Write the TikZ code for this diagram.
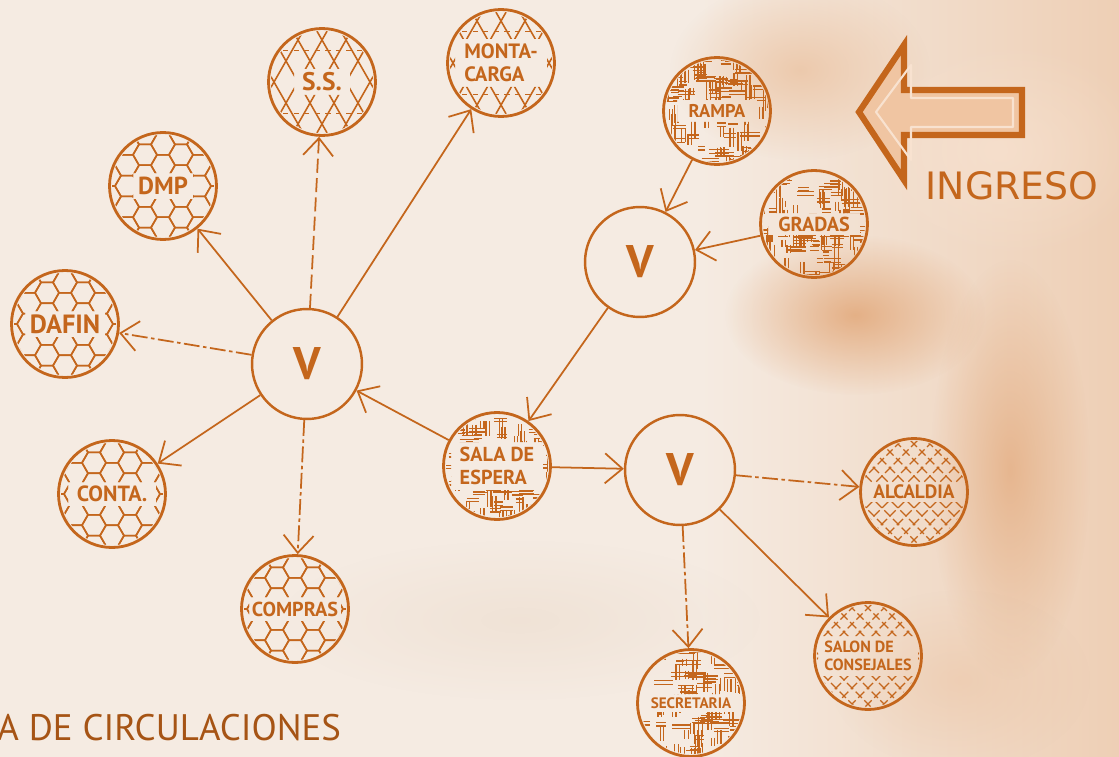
\documentclass[tikz,border=0pt]{standalone}
\usepackage{fontspec}
\usepackage{tikz}
\usetikzlibrary{arrows.meta,fadings}
\newfontfamily\ptsans{PT Sans}
\newfontfamily\dejavu{DejaVu Sans}
\definecolor{rust700}{HTML}{C4661C}
\definecolor{rust800}{HTML}{A65415}
\definecolor{sand50}{HTML}{F5EBE2}
\definecolor{sand200}{HTML}{E9D6C4}
\definecolor{peach100}{HTML}{F8E2D0}
\definecolor{peach200}{HTML}{F0C5A2}
\definecolor{peach300}{HTML}{EBC3A2}
\definecolor{peach400}{HTML}{DD965E}
\tikzfading[name=softblob, inner color=transparent!0, outer color=transparent!100]
\tikzset{
  every node/.style={font=\ptsans, text=rust700},
  room/.style={
    circle, draw=rust700, line width=1.6pt,
    minimum size=2.14cm, inner sep=0pt,
    align=left, font=\ptsans\bfseries\fontsize{#1}{#1}\selectfont
  },
  hub/.style={
    circle, draw=rust700, line width=1.4pt,
    minimum size=2.2cm,
    font=\ptsans\bfseries\fontsize{26}{26}\selectfont
  },
  flow/.style={
    -{Straight Barb[length=3.5mm,width=6mm]},
    line width=1pt, draw=rust700
  },
  flowdash/.style={flow, dash pattern=on 8pt off 3pt},
  flowdot/.style={flow, dash pattern=on 9pt off 2pt on 2pt off 2pt},
  hatch/.style={draw=rust700, line width=0.9pt},
  maze/.style={draw=rust700, line width=0.75pt},
  blob/.style={path fading=softblob},
}
\newcommand{\bandclip}[2]{\clip (-60,-60) -- (60,-60) -- (60,60) -- (-60,60) -- cycle
  (-#1,-#2) -- (-#1,#2) -- (#1,#2) -- (#1,-#2) -- cycle;}

\begin{document}
\begin{tikzpicture}[x=0.02cm, y=-0.02cm]
  \useasboundingbox (0,0) rectangle (1119,757);
  \fill[sand50] (0,0) rectangle (1119,757);
  \shade[left color=sand50, right color=peach300!70!sand50] (700,0) rectangle (1119,757);
  \fill[blob, peach300, opacity=.8] (800,70) ellipse (130 and 90);
  \fill[blob, peach100, opacity=.7] (1000,150) ellipse (150 and 110);
  \fill[blob, peach400, opacity=.65] (855,315) ellipse (130 and 80);
  \fill[blob, peach400, opacity=.5] (1010,470) ellipse (80 and 210);
  \fill[blob, peach300, opacity=.5] (960,680) ellipse (130 and 90);
  \fill[blob, sand200, opacity=.4] (520,620) ellipse (240 and 80);

  \node[hub] (v1) at (307,364) {V};
  \node[hub] (v2) at (640,262) {V};
  \node[hub] (v3) at (680,470) {V};
  \node[room=14.5] (ss) at (322,82) {S.S.};
  \node[room=11.8] (monta) at (501,63) {MONTA-\\[1.5pt]CARGA};
  \node[room=14] (dmp) at (163,186) {DMP};
  \node[room=15] (dafin) at (65,324) {DAFIN};
  \node[room=12.5] (conta) at (112,494) {CONTA.};
  \node[room=11.5] (compras) at (295,609) {COMPRAS};
  \node[room=11.5] (sala) at (497,466) {SALA DE\\[1.5pt]ESPERA};
  \node[room=10.5] (rampa) at (717,111) {RAMPA};
  \node[room=11.5] (gradas) at (814,224) {GRADAS};
  \node[room=11] (alcaldia) at (914,492) {ALCALDIA};
  \node[room=9.2] (salon) at (868,656) {SALON DE\\[1pt]CONSEJALES};
  \node[room=8.6] (secretaria) at (691,703) {SECRETARIA};

  \foreach \n/\w/\h in {dmp/30/13, dafin/40/13, conta/44/12, compras/46/12}{
    \begin{scope}[shift={(\n.center)}]
      \clip (0,0) circle (51);
      \bandclip{\w}{\h}
      \foreach \i in {-4,...,4}
        \foreach \j in {-3,...,3}
          \draw[hatch] ({18*\i},{20.8*(\j+0.5*abs(mod(\i,2)))}) +(0:12) -- +(60:12) -- +(120:12)
            -- +(180:12) -- +(240:12) -- +(300:12) -- cycle;
    \end{scope}
  }
  \foreach \n/\w/\h in {ss/28/13, monta/46/24}{
    \begin{scope}[shift={(\n.center)}]
      \clip (0,0) circle (51);
      \bandclip{\w}{\h}
      \foreach \k in {-6,...,6}{
        \draw[hatch] ({24*\k-40},-70) -- ({24*\k+40},70);
        \draw[hatch] ({24*\k+40},-70) -- ({24*\k-40},70);
      }
      \draw[hatch, dashed] (-60,-31.5) -- (60,-31.5) (-60,31.5) -- (60,31.5);
    \end{scope}
  }
  \pgfmathsetseed{42}
  \foreach \n/\w/\h in {rampa/40/11, gradas/46/11, sala/46/24, secretaria/50/9}{
    \begin{scope}[shift={(\n.center)}]
      \clip (0,0) circle (51);
      \bandclip{\w}{\h}
      \foreach \k in {1,...,120}{
        \pgfmathsetmacro\sx{54*rand}
        \pgfmathsetmacro\sy{54*rand}
        \pgfmathsetmacro\len{6+14*rnd}
        \ifodd\k
          \draw[maze] (\sx,\sy) -- ++(\len,0) ({\sx},{\sy+3.5}) -- ++(\len,0);
        \else
          \draw[maze] (\sx,\sy) -- ++(0,\len) ({\sx+3.5},{\sy}) -- ++(0,\len);
        \fi
      }
    \end{scope}
  }
  \foreach \n/\w/\h in {alcaldia/52/10, salon/50/20}{
    \begin{scope}[shift={(\n.center)}]
      \clip (0,0) circle (51);
      \bandclip{\w}{\h}
      \foreach \k in {-7,...,7}{
        \draw[maze, dash pattern=on 5pt off 2pt] ({16*\k-60},-60) -- ({16*\k+60},60);
        \draw[maze, dash pattern=on 5pt off 2pt] ({16*\k+60},-60) -- ({16*\k-60},60);
      }
    \end{scope}
  }

  \draw[flowdash] (v1) -- (ss);
  \draw[flow] (v1) -- (monta);
  \draw[flow] (v1) -- (dmp);
  \draw[flowdot] (v1) -- (dafin);
  \draw[flow] (v1) -- (conta);
  \draw[flowdot] (v1) -- (compras);
  \draw[flow] (sala) -- (v1);
  \draw[flow] (v2) -- (sala);
  \draw[flow] (rampa) -- (v2);
  \draw[flow] (gradas) -- (v2);
  \draw[flow] (sala) -- (v3);
  \draw[flowdot] (v3) -- (alcaldia);
  \draw[flow] (v3) -- (salon);
  \draw[flowdot] (v3) -- (secretaria);

  \draw[draw=rust700, fill=peach200, line width=3.5pt, line join=miter]
    (859,112) -- (904,45) -- (904,90) -- (1022,90) -- (1022,135) -- (904,135) -- (904,180) -- cycle;
  \draw[draw=peach100, line width=1.2pt, line join=round]
    (876,112) -- (911,65) -- (911,98) -- (1013,98) -- (1013,127) -- (911,127) -- (911,160) -- cycle;
  \node[font=\dejavu\fontsize{21.5}{22}\selectfont] (ingreso) at (1012,186) {INGRESO};
  \node[anchor=base west, inner sep=0pt, text=rust800, font=\ptsans\fontsize{21}{21}\selectfont] (titulo)
    at (-3,740) {A DE CIRCULACIONES};
\end{tikzpicture}
\end{document}
